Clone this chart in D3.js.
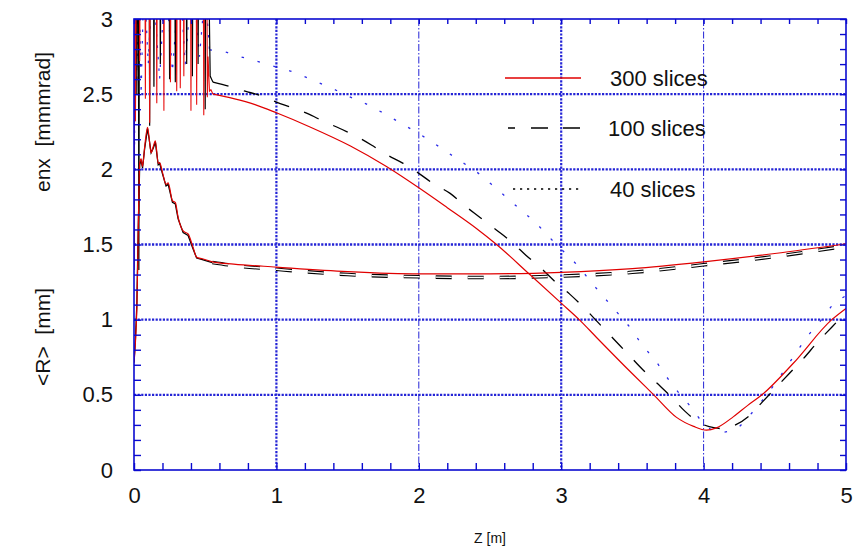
<!DOCTYPE html>
<html>
<head>
<meta charset="utf-8">
<script src="https://cdn.jsdelivr.net/npm/d3@7"></script>
<style>
  html, body { margin: 0; padding: 0; background: #fff; }
  svg { display: block; font-family: "Liberation Sans", Arial, sans-serif; }
</style>
</head>
<body>
<svg id="chart" width="854" height="548"></svg>
<script>
// Axis ticks
const zTicks = [0, 1, 2, 3, 4, 5];
const valueTicks = [0, 0.5, 1, 1.5, 2, 2.5, 3];

// Legend entries
const sliceLabels = ["300 slices", "100 slices", "40 slices"];

// Normalized emittance enx [mm mrad] vs z [m]: start-up noise (runs off the top), then the smooth part
const emit300Noise = [[0.0,1.35],[0.004,3.3],[0.010,2.32],[0.016,3.3],[0.037,3.3],[0.040,2.72],[0.043,3.3],[0.077,3.3],[0.080,2.47],[0.083,3.3],[0.107,3.3],[0.110,2.31],[0.113,3.3],[0.157,3.3],[0.160,2.44],[0.163,3.3],[0.207,3.3],[0.210,2.39],[0.213,3.3],[0.253,3.3],[0.256,2.58],[0.259,3.3],[0.297,3.3],[0.300,2.52],[0.303,3.3],[0.322,3.3],[0.325,2.54],[0.328,3.3],[0.347,3.3],[0.350,2.62],[0.353,3.3],[0.397,3.3],[0.400,2.39],[0.403,3.3],[0.437,3.3],[0.440,2.43],[0.443,3.3],[0.487,3.3],[0.490,2.36],[0.494,3.3],[0.512,3.3],[0.515,2.48],[0.520,2.75],[0.530,2.52],[0.540,2.53],[0.555,2.50]];
const emit300 = [[0.555,2.50],[0.70,2.47],[0.85,2.43],[1.0,2.376],[1.24,2.28],[1.52,2.155],[1.77,2.02],[2.0,1.877],[2.2,1.745],[2.4,1.61],[2.546,1.50],[2.78,1.30],[3.0,1.11],[3.13,0.997],[3.25,0.88],[3.5,0.64],[3.65,0.5],[3.81,0.35],[3.93,0.29],[4.02,0.265],[4.09,0.28],[4.21,0.355],[4.31,0.43],[4.41,0.5],[4.63,0.71],[4.9,1.0],[5.0,1.075]];

const emit100Noise = [[0.0,1.33],[0.006,3.3],[0.015,3.3],[0.020,2.5],[0.025,3.3],[0.031,3.3],[0.034,1.33],[0.038,3.3],[0.107,3.3],[0.110,2.29],[0.113,3.3],[0.137,3.3],[0.140,2.55],[0.143,3.3],[0.182,3.3],[0.185,2.7],[0.188,3.3],[0.247,3.3],[0.250,2.6],[0.253,3.3],[0.287,3.3],[0.290,2.58],[0.293,3.3],[0.367,3.3],[0.370,2.7],[0.373,3.3],[0.407,3.3],[0.410,2.62],[0.413,3.3],[0.447,3.3],[0.450,2.7],[0.453,3.3],[0.497,3.3],[0.500,2.4],[0.503,3.3],[0.525,3.3],[0.535,2.62],[0.545,2.6],[0.555,2.58]];
const emit100 = [[0.555,2.58],[0.675,2.55],[0.78,2.52],[0.89,2.49],[1.0,2.447],[1.12,2.407],[1.22,2.37],[1.33,2.32],[1.45,2.27],[1.56,2.22],[1.67,2.16],[1.77,2.10],[1.89,2.04],[1.99,1.98],[2.11,1.90],[2.22,1.84],[2.32,1.76],[2.43,1.68],[2.54,1.60],[2.66,1.51],[2.75,1.43],[2.85,1.35],[2.96,1.25],[3.06,1.17],[3.17,1.07],[3.27,0.97],[3.37,0.87],[3.47,0.77],[3.57,0.67],[3.67,0.58],[3.78,0.48],[3.87,0.39],[3.98,0.31],[4.08,0.28],[4.14,0.275],[4.20,0.29],[4.32,0.36],[4.41,0.45],[4.51,0.55],[4.60,0.64],[4.70,0.74],[4.80,0.85],[4.90,0.95],[5.0,1.05]];

const emit40Noise = [[0.0,1.4],[0.01,3.3],[0.02,2.6],[0.035,3.3],[0.05,2.5],[0.07,3.3],[0.1,2.7],[0.13,3.3],[0.18,2.6],[0.22,3.3],[0.27,2.65],[0.32,3.3],[0.36,2.7],[0.41,3.3],[0.46,2.75],[0.5,3.2],[0.53,2.795]];
const emit40 = [[0.53,2.795],[0.64,2.78],[0.745,2.75],[0.86,2.72],[0.965,2.69],[1.08,2.66],[1.19,2.62],[1.30,2.575],[1.41,2.53],[1.52,2.48],[1.63,2.435],[1.74,2.38],[1.85,2.32],[1.96,2.26],[2.08,2.19],[2.19,2.12],[2.30,2.05],[2.41,1.98],[2.51,1.90],[2.62,1.81],[2.71,1.735],[2.82,1.645],[2.91,1.555],[3.02,1.45],[3.12,1.355],[3.21,1.25],[3.40,1.04],[3.49,0.94],[3.57,0.83],[3.66,0.73],[3.74,0.62],[3.82,0.52],[3.91,0.42],[3.99,0.32],[4.11,0.25],[4.22,0.27],[4.32,0.36],[4.49,0.56],[4.65,0.78],[4.73,0.89],[4.82,0.99],[4.90,1.09],[5.0,1.16]];

// Mean beam radius <R> [mm] vs z [m]
const radius300 = [[0,0.71],[0.01,0.85],[0.02,1.08],[0.03,1.6],[0.04,2.04],[0.05,2.07],[0.06,2.02],[0.075,2.15],[0.095,2.28],[0.105,2.22],[0.12,2.11],[0.135,2.15],[0.15,2.19],[0.17,2.04],[0.18,2.045],[0.2,1.98],[0.225,1.90],[0.24,1.91],[0.27,1.79],[0.29,1.78],[0.31,1.68],[0.345,1.59],[0.38,1.57],[0.415,1.48],[0.44,1.415],[0.48,1.405],[0.55,1.385],[0.7,1.37],[1.0,1.35],[1.5,1.32],[2.0,1.305],[2.5,1.305],[3.0,1.315],[3.5,1.34],[4.0,1.385],[4.5,1.44],[5.0,1.505]];
const radius100Start = [[0,0.72],[0.01,0.87],[0.02,1.1],[0.03,1.62],[0.04,2.03],[0.05,2.06],[0.06,2.01],[0.075,2.14],[0.095,2.27],[0.105,2.21],[0.12,2.11],[0.135,2.14],[0.15,2.18],[0.17,2.03],[0.18,2.04],[0.2,1.97],[0.225,1.89],[0.24,1.90],[0.27,1.78],[0.29,1.77],[0.31,1.67],[0.345,1.58],[0.38,1.56],[0.415,1.47],[0.44,1.41],[0.48,1.40],[0.55,1.38]];
const radius100 = [[0.55,1.38],[0.7,1.36],[1.0,1.335],[1.5,1.30],[2.0,1.285],[2.5,1.28],[3.0,1.29],[3.5,1.315],[4.0,1.365],[4.5,1.42],[5.0,1.49]];

const m = { left: 134, right: 846, top: 19, bottom: 470 };
const gridBlue = "#2424d6";
const axisBlue = "#0a0ad0";

const x = d3.scaleLinear().domain([0, 5]).range([m.left, m.right]);
const y = d3.scaleLinear().domain([0, 3]).range([m.bottom, m.top]);

const svg = d3.select("#chart");

svg.append("defs").append("clipPath").attr("id", "plot-clip")
  .append("rect")
  .attr("x", m.left).attr("y", m.top)
  .attr("width", m.right - m.left).attr("height", m.bottom - m.top);

// Grid: horizontal rules at each half unit, vertical rules at each metre
const grid = svg.append("g");
grid.selectAll("line.h")
  .data(valueTicks.filter(v => v > 0 && v < 3))
  .join("line")
  .attr("x1", m.left).attr("x2", m.right)
  .attr("y1", d => y(d)).attr("y2", d => y(d))
  .attr("stroke", gridBlue).attr("stroke-width", 2.4)
  .attr("stroke-dasharray", "2.2,1.4");
grid.selectAll("line.v")
  .data(zTicks.filter(v => v > 0 && v < 5))
  .join("line")
  .attr("y1", m.top).attr("y2", m.bottom)
  .attr("x1", d => x(d)).attr("x2", d => x(d))
  .attr("stroke", gridBlue)
  .attr("stroke-width", d => (d % 2 === 1 ? 2.2 : 1))
  .attr("stroke-dasharray", d => (d % 2 === 1 ? "2.2,1.4" : "7,2,1.5,2"));

const jagged = d3.line().x(d => x(d[0])).y(d => y(d[1]));
const smooth = d3.line().x(d => x(d[0])).y(d => y(d[1])).curve(d3.curveMonotoneX);
const curves = svg.append("g").attr("clip-path", "url(#plot-clip)");

// 40 slices: blue dotted
curves.append("path").datum(emit40Noise).attr("d", jagged)
  .attr("fill", "none").attr("stroke", "#2b2be8").attr("stroke-width", 1.2)
  .attr("stroke-dasharray", "2.5,9");
curves.append("path").datum(emit40).attr("d", smooth)
  .attr("fill", "none").attr("stroke", "#2b2be8").attr("stroke-width", 1.3)
  .attr("stroke-dasharray", "2.5,14");

// 100 slices: black dashed
curves.append("path").datum(emit100Noise).attr("d", jagged)
  .attr("fill", "none").attr("stroke", "#000").attr("stroke-width", 1.2);
curves.append("path").datum(emit100).attr("d", smooth)
  .attr("fill", "none").attr("stroke", "#000").attr("stroke-width", 1.3)
  .attr("stroke-dasharray", "16,16");
curves.append("path").datum(radius100Start).attr("d", jagged)
  .attr("fill", "none").attr("stroke", "#000").attr("stroke-width", 1.3);
curves.append("path").datum(radius100).attr("d", smooth)
  .attr("fill", "none").attr("stroke", "#000").attr("stroke-width", 3.6)
  .attr("stroke-dasharray", "16,16");
curves.append("path").datum(radius100).attr("d", smooth)
  .attr("fill", "none").attr("stroke", "#fff").attr("stroke-width", 1.4)
  .attr("stroke-dasharray", "16,16");

// 300 slices: red solid
curves.append("path").datum(emit300Noise).attr("d", jagged)
  .attr("fill", "none").attr("stroke", "#e81010").attr("stroke-width", 1.1);
[emit300, radius300].forEach(data => {
  curves.append("path").datum(data).attr("d", smooth)
    .attr("fill", "none").attr("stroke", "#e00000").attr("stroke-width", 1.2);
});

// Frame
svg.append("rect")
  .attr("x", m.left).attr("y", m.top)
  .attr("width", m.right - m.left).attr("height", m.bottom - m.top)
  .attr("fill", "none").attr("stroke", axisBlue).attr("stroke-width", 1.6);

// Minor ticks pointing into the plot
const minorV = d3.range(0, 3.0001, 0.1);
const minorZ = d3.range(0, 5.0001, 0.2);
const tickStyle = g => {
  g.select(".domain").remove();
  g.selectAll(".tick line").attr("stroke", axisBlue).attr("stroke-width", 1.4);
  g.selectAll(".tick text").remove();
};
svg.append("g").attr("transform", `translate(${m.left},0)`)
  .call(d3.axisLeft(y).tickValues(minorV).tickSize(-7)).call(tickStyle);
svg.append("g").attr("transform", `translate(${m.right},0)`)
  .call(d3.axisRight(y).tickValues(minorV).tickSize(-6)).call(tickStyle);
svg.append("g").attr("transform", `translate(0,${m.bottom})`)
  .call(d3.axisBottom(x).tickValues(minorZ).tickSize(-7)).call(tickStyle);
svg.append("g").attr("transform", `translate(0,${m.top})`)
  .call(d3.axisTop(x).tickValues(minorZ).tickSize(-5)).call(tickStyle);

// Tick labels
const labelStyle = g => {
  g.select(".domain").remove();
  g.selectAll(".tick line").remove();
  g.selectAll(".tick text").attr("fill", "#111").attr("font-size", 22)
    .attr("font-family", "'Liberation Sans', Arial, sans-serif");
};
svg.append("g").attr("transform", `translate(${m.left},0)`)
  .call(d3.axisLeft(y).tickValues(valueTicks).tickSize(0).tickPadding(21)
    .tickFormat(d3.format("~g")))
  .call(labelStyle);
svg.append("g").attr("transform", `translate(0,${m.bottom})`)
  .call(d3.axisBottom(x).tickValues(zTicks).tickSize(0).tickPadding(17)
    .tickFormat(d3.format("d")))
  .call(labelStyle);

// Axis titles
svg.append("text")
  .attr("transform", `translate(50,122) rotate(-90)`)
  .attr("text-anchor", "middle").attr("font-size", 21).attr("fill", "#111")
  .attr("xml:space", "preserve")
  .text("enx  [mmmrad]");
svg.append("text")
  .attr("transform", `translate(50,337) rotate(-90)`)
  .attr("text-anchor", "middle").attr("font-size", 21).attr("fill", "#111")
  .attr("xml:space", "preserve")
  .text("<R>  [mm]");
svg.append("text")
  .attr("x", 490).attr("y", 543)
  .attr("text-anchor", "middle").attr("font-size", 14).attr("fill", "#111")
  .text("Z [m]");

// Legend
const legendY = [78, 128, 189];
const legendX0 = [505, 508, 513];
const legendTextX = [610, 608, 610];
const legendStroke = ["#e00000", "#000", "#000"];
const legendDash = [null, "7,16,17,15,17", "2.2,4.8"];
const legend = svg.append("g");
sliceLabels.forEach((label, i) => {
  legend.append("line")
    .attr("x1", legendX0[i]).attr("x2", 581)
    .attr("y1", legendY[i]).attr("y2", legendY[i])
    .attr("stroke", legendStroke[i]).attr("stroke-width", 1.3)
    .attr("stroke-dasharray", legendDash[i]);
  legend.append("text")
    .attr("x", legendTextX[i]).attr("y", legendY[i] + 8)
    .attr("font-size", 22).attr("fill", "#111")
    .text(label);
});
</script>
</body>
</html>
